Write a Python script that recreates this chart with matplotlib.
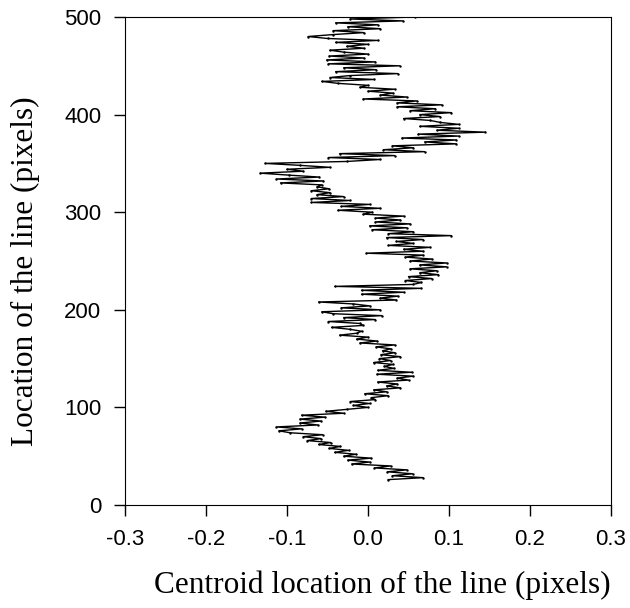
import matplotlib
matplotlib.use("Agg")
import matplotlib.pyplot as plt

# location of the line (pixels), sampled every 2 rows
location = list(range(26, 501, 2))

# centroid location, one value per row above
centroid = [
    0.025, 0.068, 0.030, 0.055, 0.024, 0.048, 0.008, 0.028, -0.020, 0.002,
    -0.025, 0.004, -0.030, -0.015, -0.041, -0.024, -0.048, -0.034, -0.061, -0.046,
    -0.075, -0.058, -0.080, -0.056, -0.096, -0.110, -0.082, -0.113, -0.062, -0.084,
    -0.058, -0.084, -0.053, -0.082, -0.030, -0.052, -0.026, 0.000, -0.018, 0.002,
    -0.022, 0.009, 0.004, 0.025, -0.004, 0.023, 0.007, 0.040, 0.023, 0.036,
    0.012, 0.050, 0.036, 0.056, 0.011, 0.054, 0.012, 0.032, 0.020, 0.031,
    0.007, 0.028, 0.014, 0.040, 0.016, 0.033, 0.018, 0.028, 0.010, 0.033,
    -0.010, 0.011, -0.014, 0.000, -0.035, -0.014, -0.008, -0.022, -0.045, -0.006,
    -0.010, -0.049, 0.009, -0.030, 0.017, -0.043, -0.057, 0.015, -0.033, 0.002,
    -0.018, -0.061, 0.035, 0.015, 0.037, -0.008, 0.044, -0.008, 0.066, -0.041,
    0.056, 0.066, 0.046, 0.079, 0.050, 0.087, 0.064, 0.085, 0.052, 0.097,
    0.064, 0.097, 0.052, 0.079, 0.046, 0.068, -0.002, 0.068, 0.044, 0.077,
    0.025, 0.056, 0.035, 0.068, 0.023, 0.103, 0.025, 0.056, 0.005, 0.048,
    0.002, 0.052, 0.009, 0.040, 0.009, 0.044, -0.006, 0.005, -0.037, 0.015,
    -0.033, 0.002, -0.070, -0.022, -0.070, -0.030, -0.063, -0.047, -0.070, -0.048,
    -0.063, -0.057, -0.108, -0.055, -0.113, -0.060, -0.098, -0.133, -0.080, -0.100,
    -0.047, -0.084, -0.127, -0.026, 0.015, -0.049, 0.033, -0.035, 0.070, 0.019,
    0.056, 0.030, 0.109, 0.070, 0.109, 0.042, 0.112, 0.062, 0.145, 0.085,
    0.112, 0.064, 0.112, 0.089, 0.077, 0.044, 0.089, 0.064, 0.103, 0.052,
    0.083, 0.036, 0.091, 0.036, 0.060, -0.006, 0.048, 0.015, 0.031, 0.000,
    0.033, -0.010, 0.000, -0.037, -0.057, 0.008, -0.047, -0.022, 0.037, -0.040,
    0.010, -0.030, 0.039, -0.049, 0.009, -0.051, -0.005, -0.048, 0.000, -0.030,
    -0.047, -0.005, -0.026, 0.000, -0.040, 0.012, -0.050, -0.074, -0.043, -0.005,
    -0.043, 0.015, -0.025, 0.012, -0.040, 0.043, -0.022, 0.058,
]

x_ticks = [-0.3, -0.2, -0.1, 0.0, 0.1, 0.2, 0.3]
y_ticks = [0, 100, 200, 300, 400, 500]

fig = plt.figure(figsize=(6.3, 6.08), dpi=100)
# axes box: left 125 px, right 611 px, top 17 px, bottom 505 px
ax = fig.add_axes([125 / 630, 103 / 608, 486 / 630, 488 / 608])

ax.plot(centroid, location, color="black", linewidth=1.0,
        marker=".", markersize=1.5)

ax.set_xlim(-0.3, 0.3)
ax.set_ylim(0, 500)
ax.set_xticks(x_ticks)
ax.set_xticklabels([f"{t:.1f}" for t in x_ticks])
ax.set_yticks(y_ticks)
ax.tick_params(direction="out", length=8, width=1, labelsize=16, pad=9)
for lab in ax.get_xticklabels() + ax.get_yticklabels():
    lab.set_family("Liberation Sans")

ax.set_xlabel("Centroid location of the line (pixels)",
              family="Liberation Serif", fontsize=22.5)
ax.set_ylabel("Location of the line (pixels)",
              family="Liberation Serif", fontsize=22.5)
ax.xaxis.set_label_coords(0.53, -0.135)
ax.yaxis.set_label_coords(-0.175, 0.48)

fig.savefig("out.png", dpi=100)
